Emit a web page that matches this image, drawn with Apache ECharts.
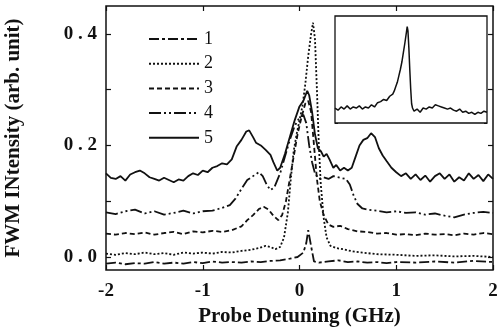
<!DOCTYPE html>
<html>
<head>
<meta charset="utf-8">
<script src="https://cdn.jsdelivr.net/npm/echarts@6/dist/echarts.min.js"></script>
<style>
  html, body { margin: 0; padding: 0; background: #fff; }
  #canvas { width: 497px; height: 328px; }
</style>
</head>
<body>
<div id="canvas"></div>
<script>
// legend names
var names = ['1', '2', '3', '4', '5'];

// x axis ticks and y axis labels
var xTicks = [-2, -1, 0, 1, 2];
var yLabelValues = [0, 0.2, 0.4];
var yTickValues = [0, 0.1, 0.2, 0.3, 0.4];

// curve 1 (dash-dot)
var curve1 = [[-2.0,-0.012],[-1.9,-0.010],[-1.8,-0.013],[-1.7,-0.011],[-1.6,-0.012],[-1.5,-0.009],[-1.4,-0.012],[-1.3,-0.010],
  [-1.2,-0.012],[-1.1,-0.009],[-1.0,-0.011],[-0.9,-0.008],[-0.8,-0.010],[-0.7,-0.009],[-0.6,-0.010],[-0.5,-0.008],[-0.4,-0.009],
  [-0.3,-0.007],[-0.2,-0.006],[-0.1,-0.003],[-0.02,0.000],[0.04,0.008],[0.07,0.025],[0.09,0.048],[0.11,0.045],[0.13,0.010],
  [0.15,-0.008],[0.2,-0.010],[0.3,-0.008],[0.4,-0.006],[0.5,-0.009],[0.6,-0.008],[0.7,-0.010],[0.8,-0.009],[0.9,-0.011],
  [1.0,-0.009],[1.2,-0.010],[1.4,-0.008],[1.6,-0.010],[1.8,-0.007],[2.0,-0.009]];

// curve 2 (dotted)
var curve2 = [[-2.0,0.006],[-1.9,0.004],[-1.8,0.007],[-1.7,0.005],[-1.6,0.008],[-1.5,0.005],[-1.4,0.007],[-1.3,0.004],
  [-1.2,0.008],[-1.1,0.006],[-1.0,0.008],[-0.9,0.006],[-0.8,0.009],[-0.7,0.008],[-0.6,0.011],[-0.5,0.013],[-0.42,0.016],
  [-0.35,0.020],[-0.3,0.018],[-0.25,0.014],[-0.2,0.018],[-0.16,0.035],[-0.12,0.080],[-0.09,0.140],[-0.06,0.190],[-0.03,0.220],
  [0.0,0.245],[0.03,0.270],[0.06,0.310],[0.09,0.360],[0.12,0.400],[0.14,0.420],[0.16,0.390],[0.18,0.300],[0.2,0.200],
  [0.22,0.130],[0.25,0.070],[0.28,0.035],[0.32,0.020],[0.38,0.016],[0.45,0.014],[0.55,0.010],[0.65,0.008],[0.8,0.005],
  [1.0,0.004],[1.2,0.002],[1.4,0.003],[1.6,0.001],[1.8,0.002],[2.0,0.000]];

// curve 3 (dashed)
var curve3 = [[-2.0,0.042],[-1.9,0.040],[-1.8,0.043],[-1.7,0.041],[-1.6,0.044],[-1.5,0.040],[-1.4,0.043],[-1.3,0.045],
  [-1.2,0.041],[-1.1,0.046],[-1.0,0.044],[-0.9,0.047],[-0.8,0.045],[-0.7,0.048],[-0.6,0.055],[-0.54,0.066],[-0.48,0.075],
  [-0.42,0.086],[-0.37,0.090],[-0.32,0.085],[-0.27,0.074],[-0.22,0.066],[-0.18,0.075],[-0.14,0.100],[-0.1,0.140],
  [-0.06,0.180],[-0.02,0.220],[0.02,0.250],[0.06,0.275],[0.09,0.280],[0.12,0.260],[0.15,0.200],[0.18,0.140],[0.21,0.100],
  [0.25,0.075],[0.3,0.058],[0.35,0.054],[0.42,0.056],[0.5,0.050],[0.6,0.046],[0.7,0.045],[0.8,0.042],[0.9,0.043],
  [1.0,0.040],[1.1,0.041],[1.2,0.039],[1.3,0.042],[1.4,0.040],[1.5,0.041],[1.6,0.039],[1.7,0.042],[1.8,0.040],
  [1.9,0.043],[2.0,0.041]];

// curve 4 (dash-dot-dot)
var curve4 = [[-2.0,0.080],[-1.9,0.077],[-1.8,0.082],[-1.7,0.085],[-1.6,0.078],[-1.5,0.082],[-1.4,0.076],[-1.3,0.079],
  [-1.2,0.083],[-1.1,0.078],[-1.0,0.082],[-0.9,0.083],[-0.8,0.088],[-0.72,0.093],[-0.66,0.105],[-0.6,0.122],[-0.54,0.138],
  [-0.48,0.145],[-0.42,0.152],[-0.38,0.145],[-0.34,0.130],[-0.3,0.120],[-0.26,0.125],[-0.2,0.150],[-0.15,0.180],
  [-0.1,0.210],[-0.05,0.235],[0.0,0.250],[0.04,0.255],[0.07,0.240],[0.1,0.200],[0.13,0.170],[0.16,0.150],[0.2,0.140],
  [0.25,0.143],[0.3,0.140],[0.35,0.145],[0.42,0.142],[0.48,0.140],[0.52,0.130],[0.56,0.110],[0.6,0.095],[0.65,0.087],
  [0.7,0.085],[0.8,0.083],[0.9,0.080],[1.0,0.082],[1.1,0.079],[1.2,0.080],[1.3,0.076],[1.4,0.078],[1.5,0.074],
  [1.6,0.071],[1.7,0.076],[1.8,0.079],[1.9,0.081],[2.0,0.079]];

// curve 5 (solid)
var curve5 = [[-2.0,0.150],[-1.95,0.142],[-1.9,0.140],[-1.85,0.145],[-1.8,0.137],[-1.75,0.148],[-1.7,0.152],[-1.65,0.155],
  [-1.6,0.150],[-1.55,0.143],[-1.5,0.140],[-1.45,0.137],[-1.4,0.142],[-1.35,0.138],[-1.3,0.134],[-1.25,0.139],[-1.2,0.137],
  [-1.15,0.145],[-1.1,0.150],[-1.05,0.147],[-1.0,0.155],[-0.95,0.152],[-0.9,0.160],[-0.85,0.163],[-0.8,0.168],
  [-0.75,0.166],[-0.7,0.175],[-0.65,0.198],[-0.6,0.210],[-0.55,0.225],[-0.52,0.227],[-0.48,0.215],[-0.45,0.205],
  [-0.4,0.200],[-0.35,0.192],[-0.3,0.183],[-0.27,0.170],[-0.23,0.155],[-0.2,0.160],[-0.15,0.185],[-0.1,0.215],
  [-0.05,0.245],[0.0,0.270],[0.04,0.280],[0.08,0.298],[0.1,0.290],[0.13,0.260],[0.16,0.220],[0.19,0.195],[0.22,0.190],
  [0.25,0.180],[0.28,0.185],[0.31,0.175],[0.35,0.160],[0.38,0.165],[0.42,0.155],[0.46,0.160],[0.5,0.155],[0.54,0.160],
  [0.58,0.180],[0.62,0.200],[0.66,0.210],[0.7,0.213],[0.74,0.222],[0.78,0.215],[0.82,0.195],[0.86,0.182],[0.9,0.172],
  [0.95,0.160],[1.0,0.152],[1.05,0.145],[1.1,0.150],[1.15,0.140],[1.2,0.148],[1.25,0.138],[1.3,0.146],[1.35,0.135],
  [1.4,0.145],[1.45,0.150],[1.5,0.140],[1.55,0.148],[1.6,0.135],[1.65,0.143],[1.7,0.137],[1.75,0.150],[1.8,0.140],
  [1.85,0.147],[1.9,0.136],[1.95,0.148],[2.0,0.140]];

// inset curve (arbitrary units)
var insetCurve = [[0,0.14],[2,0.12],[4,0.15],[6,0.13],[8,0.16],[10,0.13],[12,0.15],[14,0.14],[16,0.16],[18,0.13],
  [20,0.15],[22,0.14],[24,0.17],[26,0.15],[28,0.19],[30,0.20],[32,0.22],[34,0.21],[36,0.25],[38,0.27],[39,0.30],
  [40,0.34],[41,0.38],[42,0.44],[43,0.50],[44,0.57],[45,0.66],[46,0.75],[47,0.85],[47.5,0.90],[48,0.86],[48.6,0.70],
  [49.2,0.50],[49.8,0.32],[50.4,0.18],[51,0.14],[52,0.11],[54,0.13],[56,0.10],[58,0.14],[60,0.13],[62,0.15],[64,0.14],
  [66,0.17],[68,0.16],[70,0.15],[72,0.14],[74,0.13],[76,0.14],[78,0.12],[80,0.11],[82,0.13],[84,0.10],[86,0.11],
  [88,0.09],[90,0.10],[92,0.08],[94,0.10],[96,0.09],[98,0.11],[100,0.10]];

var curves = [curve1, curve2, curve3, curve4, curve5];
var dashes = [[10, 3, 3, 3], [2, 2], [5, 3], [12, 3, 2, 3, 2, 3], 'solid'];

var myChart = echarts.init(document.getElementById('canvas'));

var serif = 'Liberation Serif';
var tickStyle = { color: '#111', width: 1.2 };

var series = [];
for (var i = 0; i < curves.length; i++) {
    series.push({
        name: names[i],
        type: 'line',
        xAxisIndex: 0,
        yAxisIndex: 0,
        symbol: 'none',
        data: curves[i],
        lineStyle: { color: '#111', width: 1.8, type: dashes[i] },
        itemStyle: { color: '#111' },
        z: 3
    });
}
series.push({
    name: 'inset',
    type: 'line',
    xAxisIndex: 2,
    yAxisIndex: 2,
    symbol: 'none',
    data: insetCurve,
    lineStyle: { color: '#111', width: 1.5 },
    z: 5
});

var option = {
    animation: false,
    backgroundColor: '#fff',
    legend: {
        data: names,
        orient: 'vertical',
        left: 143,
        top: 25,
        itemWidth: 50,
        itemHeight: 14,
        itemGap: 6.7,
        selectedMode: false,
        itemStyle: { opacity: 0 },
        textStyle: { fontFamily: serif, fontSize: 18, color: '#111', lineHeight: 14 }
    },
    grid: [
        { left: 106, top: 6, right: 4, bottom: 58, containLabel: false, outerBoundsMode: 'none',
          show: true, borderColor: '#111', borderWidth: 1.5, backgroundColor: 'transparent' },
        { left: 335, top: 16, width: 152, height: 107, containLabel: false, outerBoundsMode: 'none',
          show: true, borderColor: '#111', borderWidth: 1.3, backgroundColor: '#fff', z: 4 }
    ],
    xAxis: [
        {
            gridIndex: 0, type: 'value', position: 'bottom', min: -2, max: 2, interval: 1,
            axisLine: { show: false, onZero: false },
            axisTick: { inside: true, length: 5, lineStyle: tickStyle },
            splitLine: { show: false },
            axisLabel: {
                margin: 12, color: '#111', fontFamily: serif, fontWeight: 'bold', fontSize: 19,
                formatter: function (v) { return xTicks.indexOf(v) >= 0 ? String(v) : ''; }
            },
            name: 'Probe Detuning (GHz)', nameLocation: 'middle', nameGap: 35,
            nameTextStyle: { fontFamily: serif, fontWeight: 'bold', fontSize: 21, color: '#111' }
        },
        {
            gridIndex: 0, type: 'value', position: 'top', min: -2, max: 2, interval: 1,
            axisLine: { show: false, onZero: false },
            axisTick: { inside: true, length: 5, lineStyle: tickStyle },
            splitLine: { show: false },
            axisLabel: { show: false }
        },
        {
            gridIndex: 1, type: 'value', min: 0, max: 100,
            axisLine: { show: false, onZero: false }, axisTick: { show: false },
            splitLine: { show: false }, axisLabel: { show: false }
        }
    ],
    yAxis: [
        {
            gridIndex: 0, type: 'value', position: 'left', min: -0.0233, max: 0.45,
            axisLine: { show: false, onZero: false },
            axisTick: { inside: true, length: 5, lineStyle: tickStyle, customValues: yTickValues },
            splitLine: { show: false },
            axisLabel: {
                customValues: yLabelValues, margin: 9, color: '#111',
                fontFamily: serif, fontWeight: 'bold', fontSize: 19,
                formatter: function (v) { return v.toFixed(1).split('').join(' '); }
            },
            name: 'FWM INtensity (arb. unit)', nameLocation: 'middle', nameGap: 82,
            nameTextStyle: { fontFamily: serif, fontWeight: 'bold', fontSize: 21, color: '#111' }
        },
        {
            gridIndex: 0, type: 'value', position: 'right', min: -0.0233, max: 0.45,
            axisLine: { show: false, onZero: false },
            axisTick: { inside: true, length: 5, lineStyle: tickStyle, customValues: yTickValues },
            splitLine: { show: false },
            axisLabel: { show: false }
        },
        {
            gridIndex: 1, type: 'value', position: 'left', min: 0, max: 1, interval: 0.125,
            axisLine: { show: false, onZero: false },
            axisTick: { inside: true, length: 3, lineStyle: { color: '#111', width: 1 } },
            splitLine: { show: false }, axisLabel: { show: false }
        },
        {
            gridIndex: 1, type: 'value', position: 'right', min: 0, max: 1, interval: 0.125,
            axisLine: { show: false, onZero: false },
            axisTick: { inside: true, length: 3, lineStyle: { color: '#111', width: 1 } },
            splitLine: { show: false }, axisLabel: { show: false }
        }
    ],
    series: series
};

myChart.setOption(option);
</script>
</body>
</html>
